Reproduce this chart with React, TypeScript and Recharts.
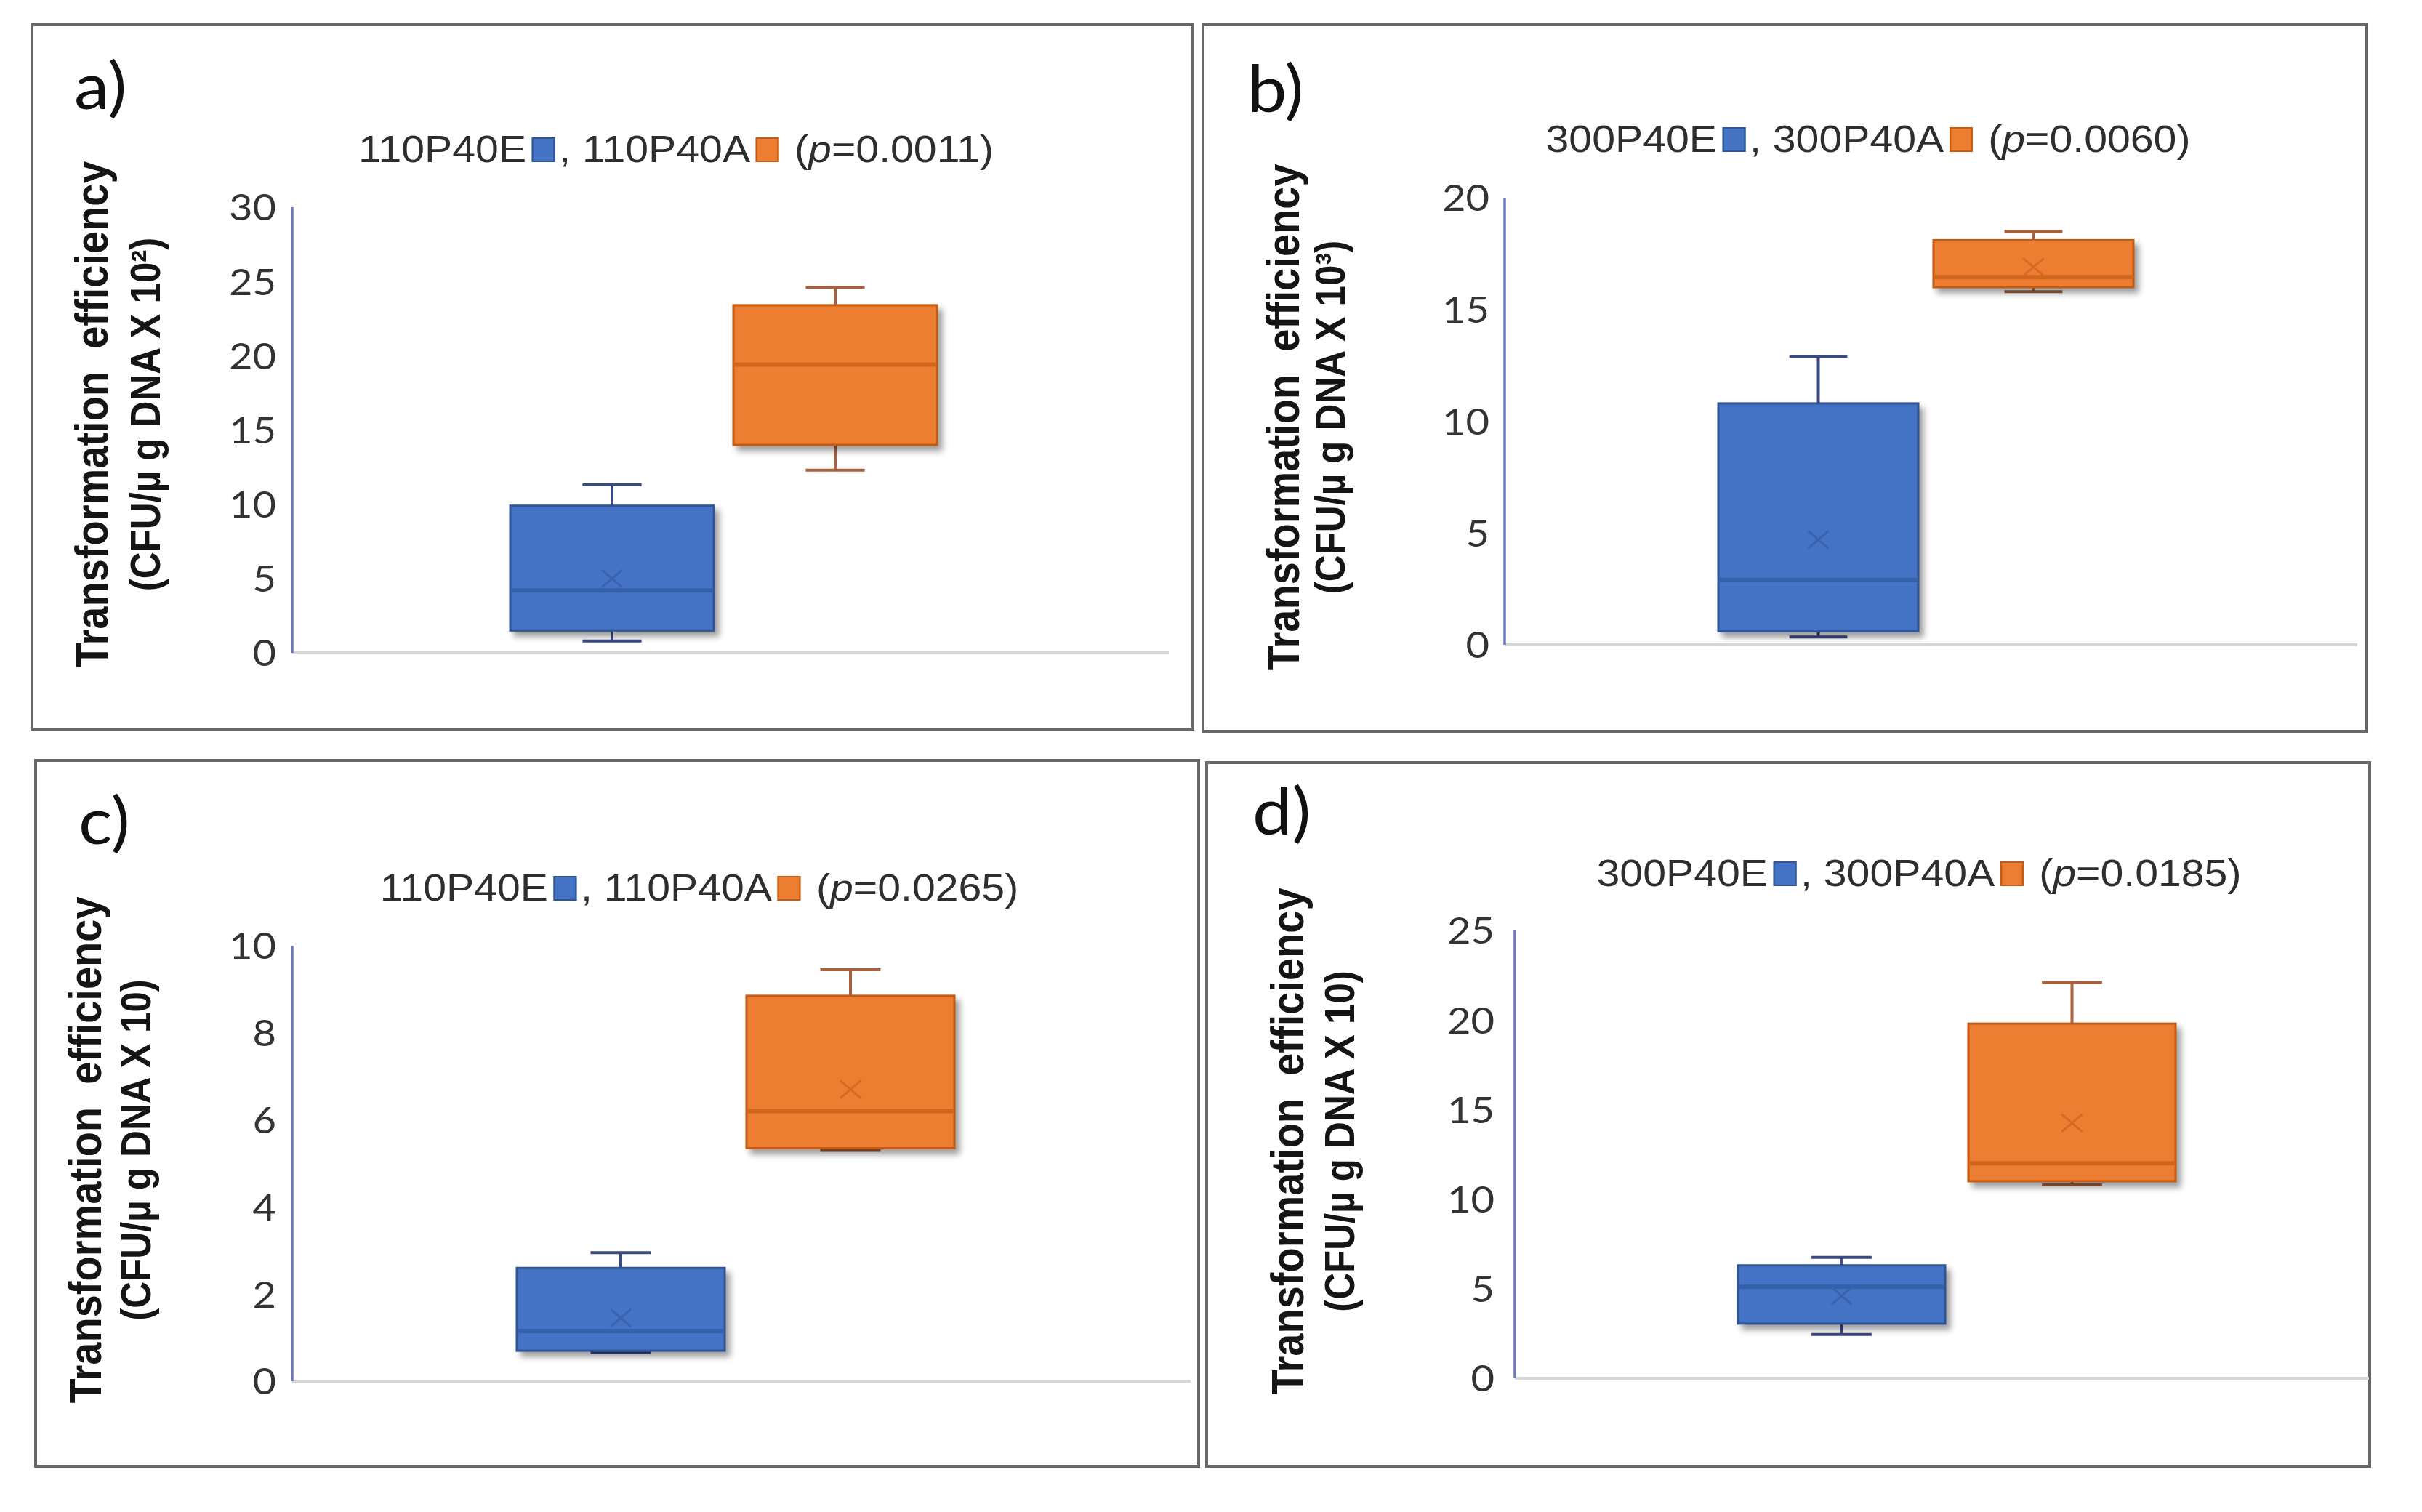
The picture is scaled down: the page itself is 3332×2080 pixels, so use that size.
import React from 'react';
import { BarChart, Bar, XAxis, YAxis } from 'recharts';

// ---------- data ----------
const panelLetters = ['a)', 'b)', 'c)', 'd)'];
const seriesNamesA = ['110P40E', '110P40A'];
const seriesNamesB = ['300P40E', '300P40A'];
const seriesNamesC = ['110P40E', '110P40A'];
const seriesNamesD = ['300P40E', '300P40A'];
const pValues = ['0.0011', '0.0060', '0.0265', '0.0185'];
const yExponents = ['²', '³', '', ''];

const ticksA = [0, 5, 10, 15, 20, 25, 30];
const ticksB = [0, 5, 10, 15, 20];
const ticksC = [0, 2, 4, 6, 8, 10];
const ticksD = [0, 5, 10, 15, 20, 25];

// [E, A] per statistic
const minA = [0.8, 12.3];
const q1A = [1.5, 14.0];
const medA = [4.2, 19.4];
const q3A = [9.9, 23.4];
const maxA = [11.3, 24.6];
const meanA = [5.0, null];

const minB = [0.35, 15.8];
const q1B = [0.6, 16.0];
const medB = [2.9, 16.45];
const q3B = [10.8, 18.1];
const maxB = [12.9, 18.5];
const meanB = [4.7, 16.9];

const minC = [0.65, 5.3];
const q1C = [0.7, 5.35];
const medC = [1.15, 6.2];
const q3C = [2.6, 8.85];
const maxC = [2.95, 9.45];
const meanC = [1.45, 6.7];

const minD = [2.45, 10.8];
const q1D = [3.05, 11.0];
const medD = [5.1, 12.0];
const q3D = [6.3, 19.8];
const maxD = [6.75, 22.1];
const meanD = [4.6, 14.25];

// ---------- styles ----------
const seriesKeys = ['E', 'A'];
const fills = { E: '#4472C4', A: '#ED7D31' };
const strokes = { E: '#2F5597', A: '#C55A11' };
const medianColors = { E: '#3560AA', A: '#D0651E' };
const meanColors = { E: '#3A62B0', A: '#D46A26' };
const whiskerColors = { E: '#3B4A80', A: '#A8613F' };

function buildRow(mins, q1s, meds, q3s, maxs, means) {
  const row: any = { cat: 'x' };
  seriesKeys.forEach((s, i) => {
    row[`${s}_base`] = mins[i];
    row[`${s}_lo`] = q1s[i] - mins[i];
    row[`${s}_box`] = q3s[i] - q1s[i];
    row[`${s}_hi`] = maxs[i] - q3s[i];
    row[`${s}_q1`] = q1s[i];
    row[`${s}_q3`] = q3s[i];
    row[`${s}_med`] = meds[i];
    row[`${s}_mean`] = means[i];
  });
  return row;
}

const panels = [
  {
    names: seriesNamesA, ticks: ticksA, row: buildRow(minA, q1A, medA, q3A, maxA, meanA),
    box: { left: 42, top: 32, width: 1601, height: 973 },
    axisX: 402, plotTop: 285, plotBottom: 898, xEnd: 1608,
    barSize: 280, barGap: 27, pad: { left: 0, right: 19 }, tickMargin: 22,
    letter: { left: 102, top: 70 }, title: { cx: 930, cy: 205 },
    ylab: { x1: 127, x2: 200, cy: 570 },
  },
  {
    names: seriesNamesB, ticks: ticksB, row: buildRow(minB, q1B, medB, q3B, maxB, meanB),
    box: { left: 1653, top: 32, width: 1605, height: 976 },
    axisX: 2070, plotTop: 272, plotBottom: 887, xEnd: 3243,
    barSize: 275, barGap: 21, pad: { left: 0, right: 15 }, tickMargin: 21,
    letter: { left: 1716, top: 74 }, title: { cx: 2570, cy: 191 },
    ylab: { x1: 1766, x2: 1830, cy: 574 },
  },
  {
    names: seriesNamesC, ticks: ticksC, row: buildRow(minC, q1C, medC, q3C, maxC, meanC),
    box: { left: 47, top: 1044, width: 1604, height: 975 },
    axisX: 402, plotTop: 1301, plotBottom: 1900, xEnd: 1638,
    barSize: 286, barGap: 30, pad: { left: 0, right: 17 }, tickMargin: 22,
    letter: { left: 108, top: 1081 }, title: { cx: 962, cy: 1221 },
    ylab: { x1: 118, x2: 187, cy: 1582 },
  },
  {
    names: seriesNamesD, ticks: ticksD, row: buildRow(minD, q1D, medD, q3D, maxD, meanD),
    box: { left: 1658, top: 1047, width: 1604, height: 972 },
    axisX: 2084, plotTop: 1280, plotBottom: 1896, xEnd: 3259,
    barSize: 285, barGap: 32, pad: { left: 40, right: 0 }, tickMargin: 28,
    letter: { left: 1723, top: 1068 }, title: { cx: 2640, cy: 1201 },
    ylab: { x1: 1772, x2: 1843, cy: 1570 },
  },
];

// ---------- shapes ----------
const lowShape = (s) => (props) => {
  const { x, y, width, height } = props;
  if (x == null || y == null) return null;
  const cx = x + width / 2;
  const capW = width * 0.29;
  const yb = y + height;
  const c = whiskerColors[s];
  return (
    <g>
      <line x1={cx} x2={cx} y1={y} y2={yb} stroke={c} strokeWidth={4} />
      <line x1={cx - capW / 2} x2={cx + capW / 2} y1={yb} y2={yb} stroke={c} strokeWidth={4} />
    </g>
  );
};

const hiShape = (s) => (props) => {
  const { x, y, width, height } = props;
  if (x == null || y == null) return null;
  const cx = x + width / 2;
  const capW = width * 0.29;
  const c = whiskerColors[s];
  return (
    <g>
      <line x1={cx} x2={cx} y1={y} y2={y + height} stroke={c} strokeWidth={4} />
      <line x1={cx - capW / 2} x2={cx + capW / 2} y1={y} y2={y} stroke={c} strokeWidth={4} />
    </g>
  );
};

const boxShape = (s) => (props) => {
  const { x, y, width, height, payload } = props;
  if (x == null || y == null || !payload) return null;
  const q1 = payload[`${s}_q1`];
  const q3 = payload[`${s}_q3`];
  const med = payload[`${s}_med`];
  const mean = payload[`${s}_mean`];
  const k = height / (q3 - q1);
  const my = y + (q3 - med) * k;
  const cx = x + width / 2;
  const meanY = mean == null ? null : y + (q3 - mean) * k;
  return (
    <g>
      <rect
        x={x}
        y={y}
        width={width}
        height={height}
        fill={fills[s]}
        stroke={strokes[s]}
        strokeWidth={3}
        style={{ filter: 'drop-shadow(6px 7px 4px rgba(0,0,0,0.38))' }}
      />
      <line x1={x + 2} x2={x + width - 2} y1={my} y2={my} stroke={medianColors[s]} strokeWidth={6} />
      {meanY != null && (
        <g stroke={meanColors[s]} strokeWidth={3}>
          <line x1={cx - 14} x2={cx + 14} y1={meanY - 12} y2={meanY + 12} />
          <line x1={cx - 14} x2={cx + 14} y1={meanY + 12} y2={meanY - 12} />
        </g>
      )}
    </g>
  );
};

const TickLabel = (props) => {
  const { x, y, payload } = props;
  return (
    <text
      x={x}
      y={y}
      dy="0.36em"
      textAnchor="end"
      fontFamily="Lato, 'Open Sans', sans-serif"
      fontSize={51}
      fill="#333333"
      transform={`translate(${x},0) scale(1.1,1) translate(${-x},0)`}
    >
      {payload.value}
    </text>
  );
};

function Panel({ p, idx }) {
  const { box } = p;
  const yAxisWidth = p.axisX - box.left;
  const margin = {
    top: p.plotTop - box.top,
    right: box.left + box.width - p.xEnd,
    bottom: box.top + box.height - p.plotBottom - 1,
    left: 0,
  };
  const maxTick = p.ticks[p.ticks.length - 1];
  const sq = (s) => (
    <span
      style={{
        display: 'inline-block',
        width: 29,
        height: 34,
        background: fills[s],
        border: `2px solid ${strokes[s]}`,
        boxSizing: 'border-box',
        verticalAlign: 'baseline',
        margin: '0 5px 0 7px',
      }}
    />
  );
  return (
    <>
      <div
        style={{
          position: 'absolute',
          left: box.left,
          top: box.top,
          width: box.width,
          height: box.height,
          border: '4px solid #686868',
          boxSizing: 'border-box',
        }}
      />
      <div style={{ position: 'absolute', left: box.left, top: box.top }}>
        <BarChart
          width={box.width}
          height={box.height}
          data={[p.row]}
          margin={margin}
          barSize={p.barSize}
          barGap={p.barGap}
        >
          <XAxis
            dataKey="cat"
            type="category"
            tick={false}
            tickLine={false}
            height={1}
            padding={p.pad}
            axisLine={{ stroke: '#d6d6d6', strokeWidth: 4 }}
          />
          <YAxis
            type="number"
            domain={[0, maxTick]}
            ticks={p.ticks}
            interval={0}
            width={yAxisWidth}
            tickLine={false}
            tickSize={0}
            tickMargin={p.tickMargin}
            axisLine={{ stroke: '#6b77b6', strokeWidth: 3.5 }}
            tick={<TickLabel />}
          />
          {seriesKeys.map((s) => [
            <Bar key={`${s}b`} dataKey={`${s}_base`} stackId={s} fill="transparent" isAnimationActive={false} />,
            <Bar key={`${s}l`} dataKey={`${s}_lo`} stackId={s} shape={lowShape(s)} isAnimationActive={false} />,
            <Bar key={`${s}x`} dataKey={`${s}_box`} stackId={s} shape={boxShape(s)} isAnimationActive={false} />,
            <Bar key={`${s}h`} dataKey={`${s}_hi`} stackId={s} shape={hiShape(s)} isAnimationActive={false} />,
          ])}
        </BarChart>
      </div>
      {/* panel letter */}
      <div
        style={{
          position: 'absolute',
          left: p.letter.left,
          top: p.letter.top,
          fontFamily: 'Lato, sans-serif',
          fontSize: 90,
          lineHeight: 1,
          color: '#111',
          transform: 'scaleX(1.08)',
          transformOrigin: 'left top',
          whiteSpace: 'pre',
        }}
      >
        {panelLetters[idx]}
      </div>
      {/* title */}
      <div
        style={{
          position: 'absolute',
          left: p.title.cx,
          top: p.title.cy,
          transform: 'translate(-50%,-50%) scaleX(1.1)',
          fontFamily: '"Liberation Sans", Arial, sans-serif',
          fontSize: 52,
          lineHeight: 1,
          color: '#2e2e2e',
          whiteSpace: 'pre',
        }}
      >
        {p.names[0]}
        {sq('E')}
        {', ' + p.names[1]}
        {sq('A')}
        {' ('}
        <i>p</i>
        {'=' + pValues[idx] + ')'}
      </div>
      {/* y label */}
      <div
        style={{
          position: 'absolute',
          left: p.ylab.x1,
          top: p.ylab.cy,
          transform: 'translate(-50%,-50%) scaleX(1.12) rotate(-90deg)',
          fontFamily: '"Liberation Sans", Arial, sans-serif',
          fontWeight: 700,
          fontSize: 56,
          lineHeight: 1,
          color: '#151515',
          whiteSpace: 'pre',
        }}
      >
        {'Transformation  efficiency'}
      </div>
      <div
        style={{
          position: 'absolute',
          left: p.ylab.x2,
          top: p.ylab.cy,
          transform: 'translate(-50%,-50%) scaleX(1.12) rotate(-90deg)',
          fontFamily: '"Liberation Sans", Arial, sans-serif',
          fontWeight: 700,
          fontSize: 51,
          lineHeight: 1,
          color: '#151515',
          whiteSpace: 'pre',
        }}
      >
        {'(CFU/µ g DNA X 10' + yExponents[idx] + ')'}
      </div>
    </>
  );
}

export default function App() {
  return (
    <div style={{ position: 'relative', width: 3332, height: 2080, background: '#fff', overflow: 'hidden' }}>
      <style>{'body{margin:0;background:#fff}'}</style>
      {panels.map((p, i) => (
        <Panel key={i} p={p} idx={i} />
      ))}
    </div>
  );
}
